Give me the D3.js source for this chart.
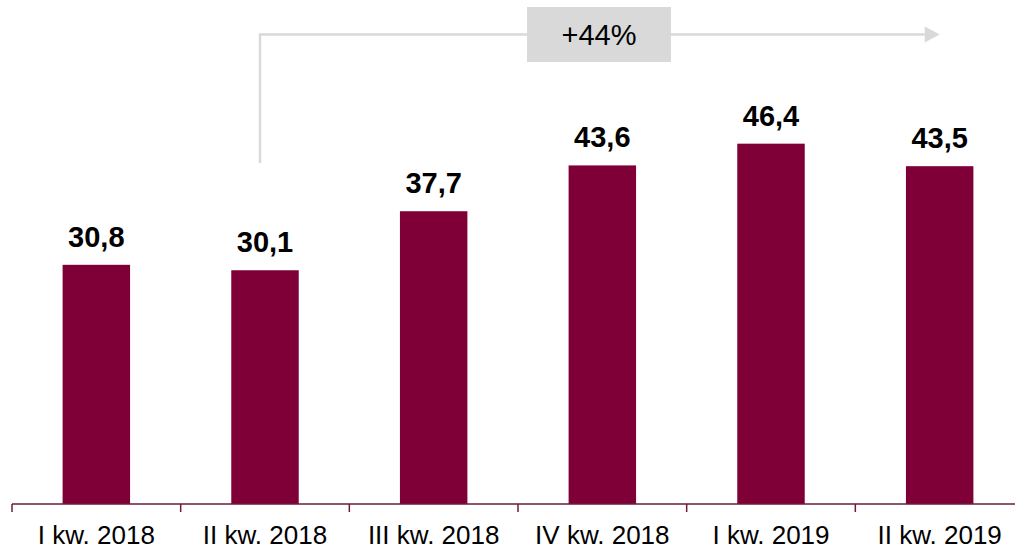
<!DOCTYPE html>
<html>
<head>
<meta charset="utf-8">
<script src="https://cdn.jsdelivr.net/npm/d3@7"></script>
<style>
  html, body { margin: 0; padding: 0; background: #fff; }
  svg { display: block; font-family: "Liberation Sans", Arial, sans-serif; }
</style>
</head>
<body>
<svg id="chart" width="1015" height="550"></svg>
<script>
// Quarterly values
const categories = ["I kw. 2018", "II kw. 2018", "III kw. 2018", "IV kw. 2018", "I kw. 2019", "II kw. 2019"];
const values = [30.8, 30.1, 37.7, 43.6, 46.4, 43.5];
const valueLabels = ["30,8", "30,1", "37,7", "43,6", "46,4", "43,5"];
const growthLabel = "+44%";

const svg = d3.select("#chart");
const barColor = "#7f0037";
const axisColor = "#6e1a3c";
const annoColor = "#d9d9d9";

const x = d3.scaleBand().domain(categories).range([12, 1024]).padding(0);
const y = d3.scaleLinear().domain([0, 64.9]).range([504, 0]);
const barW = x.bandwidth() * 0.4;
const cx = d => x(d) + x.bandwidth() / 2;

// Bars
svg.append("g").selectAll("rect")
  .data(categories)
  .join("rect")
  .attr("x", (d) => cx(d) - barW / 2)
  .attr("y", (d, i) => y(values[i]))
  .attr("width", barW)
  .attr("height", (d, i) => y(0) - y(values[i]))
  .attr("fill", barColor);

// Value labels
svg.append("g").selectAll("text")
  .data(categories)
  .join("text")
  .attr("x", d => cx(d))
  .attr("y", (d, i) => y(values[i]) - 18)
  .attr("text-anchor", "middle")
  .attr("font-size", 29)
  .attr("font-weight", "bold")
  .attr("fill", "#000")
  .text((d, i) => valueLabels[i]);

// Category axis with ticks between bands
const axisG = svg.append("g");
axisG.append("line")
  .attr("x1", x.range()[0]).attr("x2", x.range()[1])
  .attr("y1", y(0)).attr("y2", y(0))
  .attr("stroke", axisColor).attr("stroke-width", 1.5);
axisG.selectAll("line.tick")
  .data(categories)
  .join("line")
  .attr("class", "tick")
  .attr("x1", d => x(d)).attr("x2", d => x(d))
  .attr("y1", y(0)).attr("y2", y(0) + 8)
  .attr("stroke", axisColor).attr("stroke-width", 1.5);
axisG.selectAll("text")
  .data(categories)
  .join("text")
  .attr("x", d => cx(d))
  .attr("y", 544)
  .attr("text-anchor", "middle")
  .attr("font-size", 26)
  .attr("fill", "#000")
  .text(d => d);

// Growth annotation: bracket from the second quarter to the last one
const startX = cx(categories[1]) - 5;
const endX = cx(categories[5]);
const lineY = 34.5;
const anno = svg.append("g");
anno.append("path")
  .attr("d", `M${startX},163 V${lineY} H${endX - 15}`)
  .attr("fill", "none")
  .attr("stroke", annoColor)
  .attr("stroke-width", 2.5);
anno.append("path")
  .attr("d", `M${endX - 15},${lineY - 8} L${endX},${lineY} L${endX - 15},${lineY + 8} Z`)
  .attr("fill", annoColor);

const boxX = 527, boxW = 144;
anno.append("rect")
  .attr("x", boxX).attr("y", 7)
  .attr("width", boxW).attr("height", 55)
  .attr("fill", annoColor);
anno.append("text")
  .attr("x", boxX + boxW / 2)
  .attr("y", 45)
  .attr("text-anchor", "middle")
  .attr("font-size", 29)
  .attr("fill", "#000")
  .text(growthLabel);
</script>
</body>
</html>
